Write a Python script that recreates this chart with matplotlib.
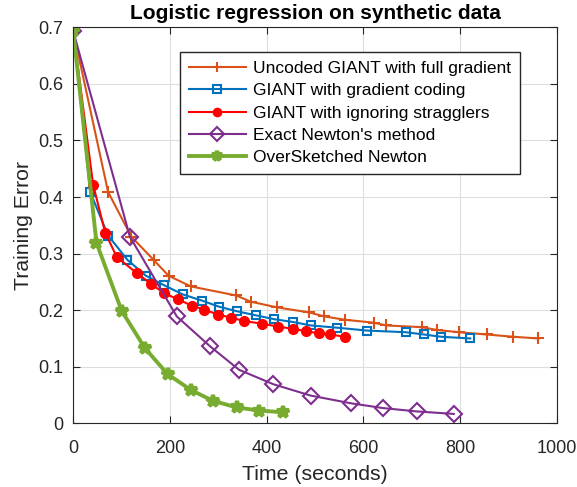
import matplotlib.pyplot as plt

plt.rcParams["font.family"] = ["Liberation Sans", "DejaVu Sans"]

# Data (time in seconds, training error)
uncoded_t = [0, 72, 120, 166, 197, 243, 337, 367, 421, 488, 519, 562, 621, 647, 721, 752, 798, 855, 910, 962]
uncoded_err = [0.693, 0.409, 0.330, 0.289, 0.261, 0.242, 0.226, 0.215, 0.205, 0.196, 0.189, 0.183, 0.178, 0.173,
               0.170, 0.165, 0.161, 0.157, 0.153, 0.150]

coded_t = [0, 35, 72, 112, 150, 188, 226, 266, 302, 339, 377, 416, 455, 491, 546, 607, 688, 725, 761, 821]
coded_err = [0.693, 0.409, 0.332, 0.289, 0.261, 0.244, 0.228, 0.217, 0.206, 0.198, 0.191, 0.184, 0.179, 0.173,
             0.169, 0.164, 0.161, 0.157, 0.153, 0.150]

ignore_t = [0, 41, 66, 90, 132, 160, 188, 217, 245, 271, 300, 326, 353, 390, 424, 454, 481, 508, 531, 562]
ignore_err = [0.693, 0.422, 0.337, 0.294, 0.265, 0.247, 0.230, 0.219, 0.208, 0.201, 0.192, 0.187, 0.181, 0.176,
              0.171, 0.167, 0.163, 0.159, 0.157, 0.153]

exact_t = [0, 117, 214, 283, 343, 414, 491, 574, 640, 710, 787]
exact_err = [0.693, 0.330, 0.189, 0.136, 0.0945, 0.069, 0.049, 0.0354, 0.027, 0.021, 0.0166]

oversketch_t = [0, 48, 100, 148, 195, 243, 288, 338, 385, 434]
oversketch_err = [0.693, 0.319, 0.199, 0.133, 0.087, 0.059, 0.040, 0.028, 0.0225, 0.0195]

fig = plt.figure(figsize=(5.77, 4.87), dpi=100)
ax = fig.add_axes([0.127, 0.1308, 0.838, 0.813])

ax.plot(uncoded_t, uncoded_err, color="#D95319", lw=1.5, marker="+", ms=9, mew=1.5,
        label="Uncoded GIANT with full gradient")
ax.plot(coded_t, coded_err, color="#0072BD", lw=1.5, marker="s", ms=6, mew=1.5, mfc="none",
        label="GIANT with gradient coding")
ax.plot(ignore_t, ignore_err, color="#FF0000", lw=1.5, marker="o", ms=7,
        label="GIANT with ignoring stragglers")
ax.plot(exact_t, exact_err, color="#7E2F8E", lw=1.5, marker="D", ms=8, mew=1.5, mfc="none",
        label="Exact Newton's method")
ax.plot(oversketch_t, oversketch_err, color="#77AC30", lw=2.8, marker="*", ms=9, mew=3,
        label="OverSketched Newton")

ax.set_xlim(0, 1000)
ax.set_ylim(0, 0.7)
ax.set_xticks([0, 200, 400, 600, 800, 1000])
ax.set_yticks([0, 0.1, 0.2, 0.3, 0.4, 0.5, 0.6, 0.7])
ax.set_yticklabels(["0", "0.1", "0.2", "0.3", "0.4", "0.5", "0.6", "0.7"])
ax.tick_params(direction="in", labelsize=13, top=True, right=True, length=5, pad=7,
               color="#262626", labelcolor="#262626")
ax.tick_params(axis="x", pad=12)
ax.grid(True, color="#dddddd", lw=0.8)
ax.set_axisbelow(True)
for sp in ax.spines.values():
    sp.set_color("#262626")

ax.set_xlabel("Time (seconds)", fontsize=15.3, color="#262626", labelpad=6)
ax.set_ylabel("Training Error", fontsize=15.3, color="#262626", labelpad=4)
ax.set_title("Logistic regression on synthetic data", fontsize=15, fontweight="bold", pad=6)

leg = ax.legend(loc="upper left", bbox_to_anchor=(0.221, 0.937), fontsize=12.5, fancybox=False,
                framealpha=1, edgecolor="#262626", handlelength=3.3, borderpad=0.5,
                labelspacing=0.41, handletextpad=0.4, borderaxespad=0, markerscale=0.85)
leg.get_frame().set_linewidth(1.0)

fig.savefig("out.png", dpi=100)
